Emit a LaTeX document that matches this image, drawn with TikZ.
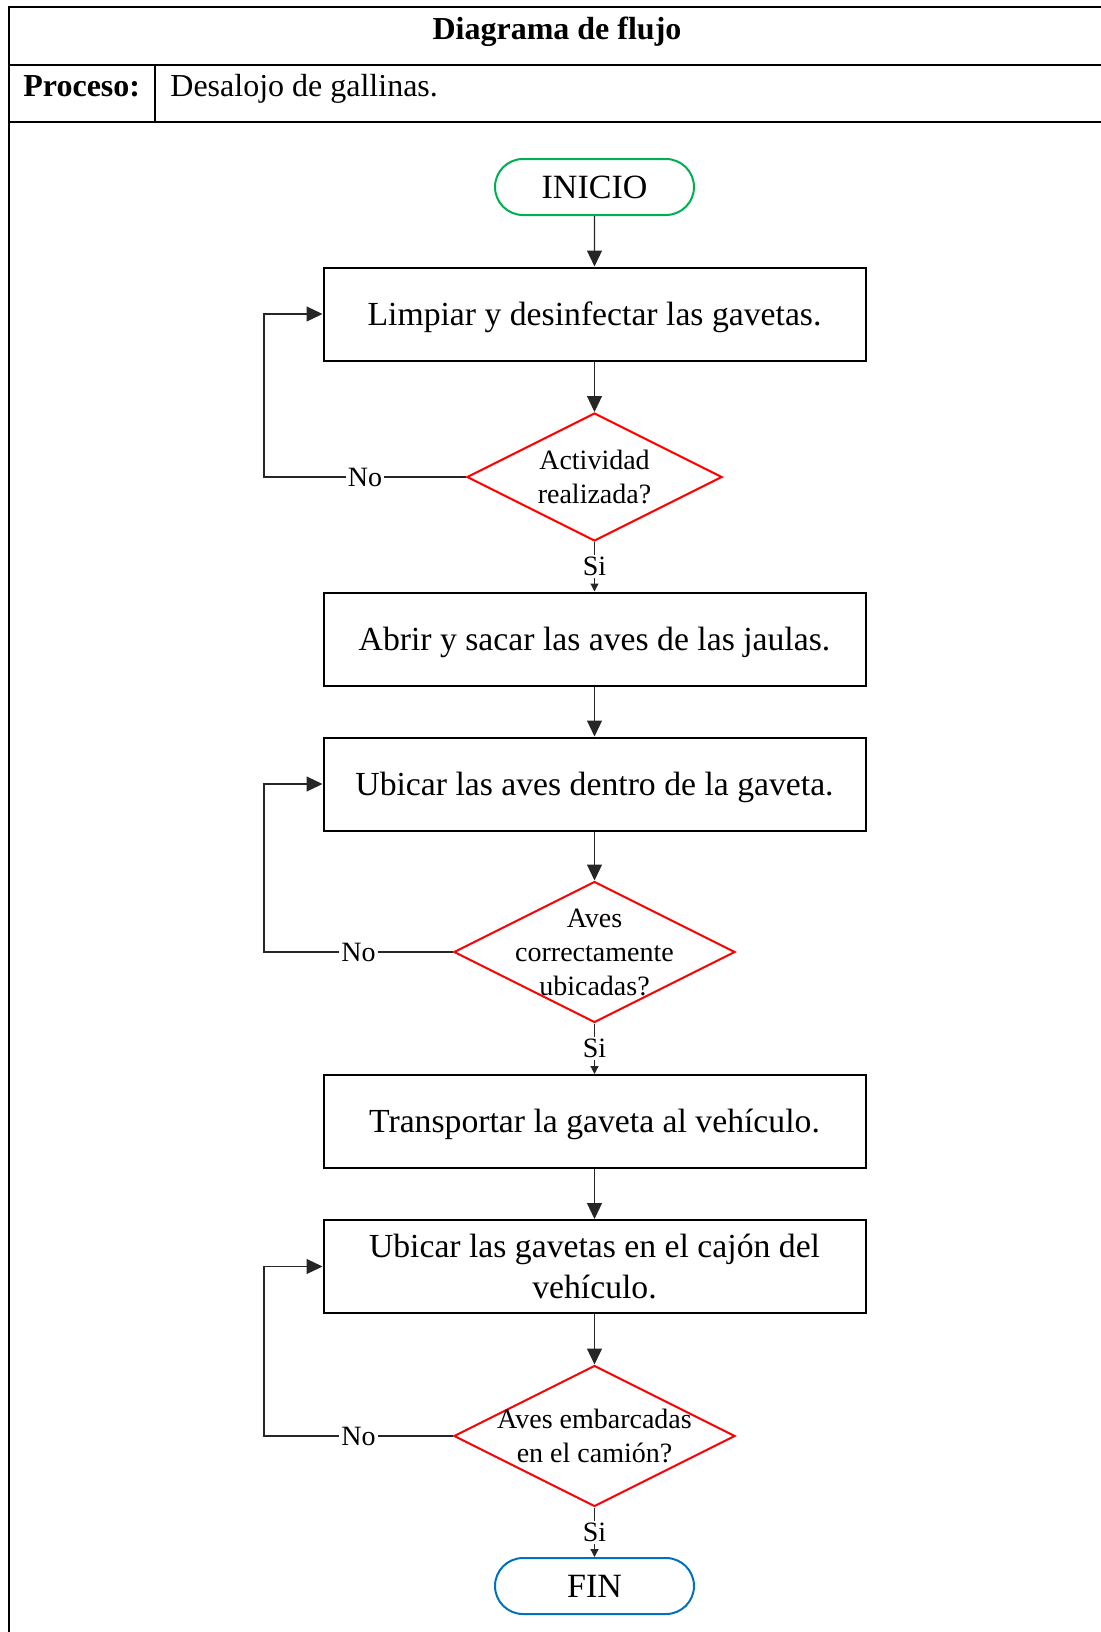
\documentclass[tikz,border=0pt]{standalone}
\usepackage{fontspec}
\setmainfont{Liberation Serif}
\usetikzlibrary{shapes.geometric,shapes.misc,arrows.meta}
\definecolor{inicol}{HTML}{00B050}
\definecolor{fincol}{HTML}{0070C0}
\newcommand\dtext[1]{\makebox[0pt]{\smash{\raisebox{-5pt}{\begin{tabular}{@{}c@{}}#1\end{tabular}}}}}
\tikzset{
  tbl/.style={line width=1pt},
  term/.style={rounded rectangle, draw, line width=1pt, minimum width=99.5pt, minimum height=28pt, inner sep=0pt, font=\fontsize{17}{20}\selectfont},
  procbase/.style={rectangle, draw, line width=1pt, minimum width=271pt, minimum height=46.5pt, align=center, inner sep=0pt, font=\fontsize{16.85}{20.5}\selectfont},
  procbox/.style={procbase, text height=14pt, text depth=3pt},
  dec/.style={diamond, draw=red, line width=1pt, inner sep=0pt, font=\fontsize{14}{16.8}\selectfont},
  conn/.style={line width=0.6pt, draw=black!85, -{Triangle[length=8pt,width=7.5pt]}},
  siconn/.style={line width=0.6pt, draw=black!85, -{Triangle[length=4pt,width=4pt]}},
  lbl/.style={fill=white, inner sep=1pt, font=\fontsize{14}{16.5}\selectfont},
  hdr/.style={font=\fontsize{16}{19}\selectfont, inner sep=0pt},
}
\begin{document}
\begin{tikzpicture}[x=0.5pt,y=-0.5pt]
\useasboundingbox (0,0) rectangle (1101,1632);
% table
\draw[tbl] (8,7) -- (1101,7);
\draw[tbl] (9,65) -- (1101,65);
\draw[tbl] (9,122) -- (1101,122);
\draw[tbl] (9,6) -- (9,1632);
\draw[tbl] (155,65) -- (155,122);
\node[hdr, anchor=base, font=\fontsize{16}{19}\selectfont\bfseries] (title) at (557,39.5) {Diagrama de flujo};
\node[hdr, anchor=base west, font=\fontsize{16}{19}\selectfont\bfseries] (proclbl) at (23,97) {Proceso:};
\node[hdr, anchor=base west] (procval) at (170,97) {Desalojo de gallinas.};
% flow
\node[term, draw=inicol] (ini) at (594.5,187) {INICIO};
\node[procbox] (b1) at (594.5,314) {Limpiar y desinfectar las gavetas.};
\node[dec, minimum width=127.5pt, minimum height=64pt] (d1) at (594.5,477) {\dtext{Actividad\\realizada?}};
\node[procbox] (b2) at (594.5,639) {Abrir y sacar las aves de las jaulas.};
\node[procbox] (b3) at (594.5,784) {Ubicar las aves dentro de la gaveta.};
\node[dec, minimum width=140.5pt, minimum height=70.5pt] (d2) at (594.5,952) {\dtext{Aves\\correctamente\\ubicadas?}};
\node[procbox] (b4) at (594.5,1121.5) {Transportar la gaveta al vehículo.};
\node[procbase] (b5) at (594.5,1266.5) {Ubicar las gavetas en el cajón del\\vehículo.};
\node[dec, minimum width=140.5pt, minimum height=70.5pt] (d3) at (594.5,1436) {\dtext{Aves embarcadas\\en el camión?}};
\node[term, draw=fincol] (fin) at (594.5,1586) {FIN};
\coordinate (lp) at (264,0);
% connectors
\draw[conn] (ini) -- (b1);
\draw[conn] (b1) -- (d1);
\draw[siconn] (d1.south) -- node[lbl]{Si} (b2.north);
\draw[conn] (b2) -- (b3);
\draw[conn] (b3) -- (d2);
\draw[siconn] (d2.south) -- node[lbl]{Si} (b4.north);
\draw[conn] (b4) -- (b5);
\draw[conn] (b5) -- (d3);
\draw[siconn] (d3.south) -- node[lbl]{Si} (fin.north);
\draw[conn] (d1.west) -- node[lbl]{No} (d1.west -| lp) |- (b1.west);
\draw[conn] (d2.west) -- node[lbl]{No} (d2.west -| lp) |- (b3.west);
\draw[conn] (d3.west) -- node[lbl]{No} (d3.west -| lp) |- (b5.west);
\end{tikzpicture}
\end{document}
